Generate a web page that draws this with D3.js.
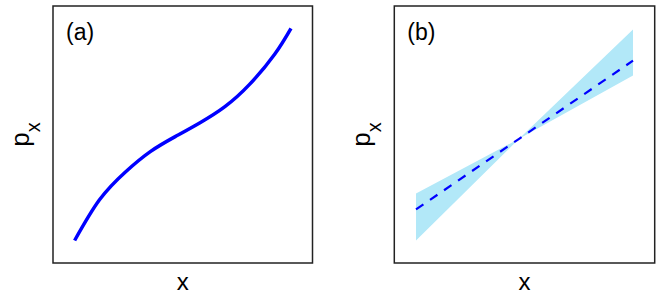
<!DOCTYPE html>
<html>
<head>
<meta charset="utf-8">
<script src="https://cdn.jsdelivr.net/npm/d3@7"></script>
<style>
  body { margin: 0; background: #fff; }
  svg { display: block; font-family: "Liberation Sans", Arial, sans-serif; }
</style>
</head>
<body>
<svg id="chart" width="664" height="298"></svg>
<script>
'use strict'

// panel (a): smooth increasing curve
const xA = [-1, -0.77, -0.53, -0.3, -0.07, 0.16, 0.39, 0.62, 0.85, 1]
const pA = [-0.99, -0.61, -0.35, -0.16, -0.02, 0.11, 0.26, 0.47, 0.75, 0.99]

// panel (b): fitted line with a band pivoting near the middle
const xB = [-1, -0.05, 1]
const pB = [-0.7, -0.04, 0.69]
const loB = [-0.99, -0.04, 0.55]
const hiB = [-0.55, -0.04, 0.98]

const panelLabels = ['(a)', '(b)']
const domain = [-1.2, 1.2]

const svg = d3.select('#chart')
const boxes = [
  { left: 53, right: 312.5, top: 6, bottom: 263 },
  { left: 394.3, right: 654.7, top: 6, bottom: 263 }
]

const drawFrame = (box, label) => {
  const g = svg.append('g')
  const x = d3.scaleLinear().domain(domain).range([box.left, box.right])
  const y = d3.scaleLinear().domain(domain).range([box.bottom, box.top])

  g.append('text')
    .attr('x', box.left + 13)
    .attr('y', 40)
    .style('font-size', '23px')
    .text(label)

  g.append('text')
    .attr('x', (box.left + box.right) / 2)
    .attr('y', 290)
    .attr('text-anchor', 'middle')
    .style('font-size', '24px')
    .text('x')

  const yl = g.append('text')
    .attr('transform', `translate(${box.left - 24}, ${(box.top + box.bottom) / 2}) rotate(-90)`)
    .attr('text-anchor', 'middle')
    .style('font-size', '26px')
  yl.append('tspan').text('p')
  yl.append('tspan').attr('dy', 11).style('font-size', '20px').text('x')

  return { g, x, y }
}

// (a)
const a = drawFrame(boxes[0], panelLabels[0])
const lineA = d3.line()
  .x((d, i) => a.x(xA[i]))
  .y((d) => a.y(d))
  .curve(d3.curveNatural)
a.g.append('path')
  .attr('d', lineA(pA))
  .attr('fill', 'none')
  .attr('stroke', '#0000ff')
  .attr('stroke-width', 3.5)

// (b)
const b = drawFrame(boxes[1], panelLabels[1])
const band = d3.area()
  .x((d, i) => b.x(xB[i]))
  .y0((d, i) => b.y(loB[i]))
  .y1((d, i) => b.y(hiB[i]))
b.g.append('path')
  .attr('d', band(xB))
  .attr('fill', '#b2e8f8')
const lineB = d3.line()
  .x((d, i) => b.x(xB[i]))
  .y((d) => b.y(d))
b.g.append('path')
  .attr('d', lineB(pB))
  .attr('fill', 'none')
  .attr('stroke', '#0000ff')
  .attr('stroke-width', 2.2)
  .attr('stroke-dasharray', '9,8')

// frames on top
boxes.forEach((box) => {
  svg.append('rect')
    .attr('x', box.left)
    .attr('y', box.top)
    .attr('width', box.right - box.left)
    .attr('height', box.bottom - box.top)
    .attr('fill', 'none')
    .attr('stroke', '#222')
    .attr('stroke-width', 1.5)
})
</script>
</body>
</html>
